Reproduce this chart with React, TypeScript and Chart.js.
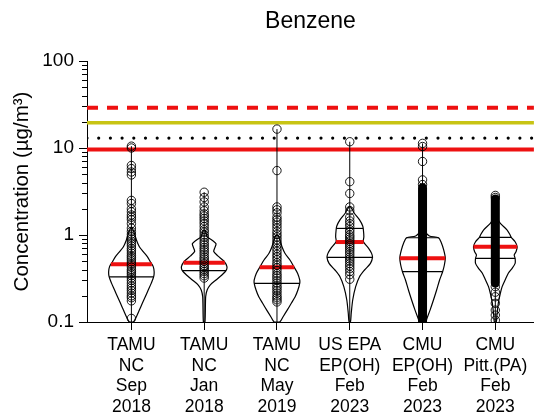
import React, { useEffect, useRef } from "react";
import { Chart, registerables } from "chart.js";
Chart.register(...registerables);

const chartTitle = "Benzene";
const yAxisTitle = "Concentration (µg/m³)";
const categories = [
  ["TAMU", "NC", "Sep", "2018"],
  ["TAMU", "NC", "Jan", "2018"],
  ["TAMU", "NC", "May", "2019"],
  ["US EPA", "EP(OH)", "Feb", "2023"],
  ["CMU", "EP(OH)", "Feb", "2023"],
  ["CMU", "Pitt.(PA)", "Feb", "2023"],
];
const categoryPositions = [1, 2, 3, 4, 5, 6];
const yMajorTicks = [0.1, 1, 10, 100];
const yMinorTicks = [0.2, 0.3, 0.4, 0.5, 0.6, 0.7, 0.8, 0.9, 2, 3, 4, 5, 6, 7, 8, 9, 20, 30, 40, 50, 60, 70, 80, 90];

// reference levels
const acuteLevel = 29; // red dashed
const intermediateLevel = 19.5; // yellow
const dottedLevel = 13; // black dotted
const chronicLevel = 9.6; // red solid

// violin profiles: concentration levels (top to bottom) and relative half-widths
const v1Levels = [1.2, 1.045, 0.877, 0.734, 0.643, 0.564, 0.493, 0.433, 0.378, 0.332, 0.278, 0.233, 0.195, 0.164, 0.137, 0.115, 0.1];
const v1Widths = [0.04, 0.13, 0.22, 0.35, 0.52, 0.7, 0.83, 0.96, 1.0, 0.98, 0.87, 0.74, 0.61, 0.48, 0.35, 0.22, 0.09];
const v2Levels = [1.14, 0.955, 0.871, 0.794, 0.716, 0.646, 0.575, 0.501, 0.433, 0.389, 0.347, 0.304, 0.266, 0.233, 0.195, 0.1];
const v2Widths = [0.04, 0.13, 0.35, 0.52, 0.47, 0.42, 0.6, 0.87, 1.0, 0.96, 0.78, 0.52, 0.26, 0.13, 0.065, 0.035];
const v3Levels = [1.0, 0.871, 0.734, 0.617, 0.516, 0.433, 0.362, 0.304, 0.278, 0.233, 0.195, 0.164, 0.137, 0.115, 0.1];
const v3Widths = [0.04, 0.13, 0.22, 0.35, 0.57, 0.74, 0.91, 1.0, 1.0, 0.92, 0.8, 0.63, 0.45, 0.27, 0.12];
const v4Levels = [2.11, 1.78, 1.49, 1.27, 1.14, 0.957, 0.837, 0.703, 0.615, 0.553, 0.472, 0.396, 0.332, 0.255, 0.179, 0.126, 0.1];
const v4Widths = [0.04, 0.2, 0.43, 0.57, 0.6, 0.62, 0.6, 0.83, 0.96, 1.0, 0.91, 0.65, 0.43, 0.26, 0.13, 0.065, 0.03];
const v5Levels = [1.12, 0.975, 0.931, 0.809, 0.673, 0.545, 0.452, 0.376, 0.304, 0.233, 0.179, 0.137, 0.111, 0.1];
const v5Widths = [0.04, 0.3, 0.7, 0.83, 0.93, 1.0, 0.96, 0.88, 0.75, 0.62, 0.48, 0.33, 0.2, 0.13];
const v6Levels = [1.62, 1.36, 1.14, 1.0, 0.94, 0.837, 0.734, 0.643, 0.589, 0.54, 0.472, 0.414, 0.363, 0.304, 0.255, 0.214, 0.164, 0.115, 0.1];
const v6Widths = [0.04, 0.22, 0.52, 0.65, 0.7, 0.87, 0.96, 0.91, 0.83, 0.87, 0.87, 0.74, 0.57, 0.43, 0.3, 0.22, 0.13, 0.065, 0.04];

// individual observations (open circles)
const v1Points = [10.5, 10.0, 6.3, 5.8, 5.3, 4.9, 2.5, 2.3, 2.0, 1.85, 1.7, 1.6, 1.5, 1.35, 1.2, 1.1, 1.02, 0.95, 0.9, 0.85, 0.8, 0.75, 0.7, 0.66, 0.62, 0.58, 0.55, 0.52, 0.49, 0.46, 0.43, 0.4, 0.38, 0.36, 0.34, 0.32, 0.3, 0.28, 0.26, 0.245, 0.23, 0.215, 0.2, 0.19, 0.175, 0.11];
const v2Points = [3.1, 2.7, 2.4, 2.1, 1.9, 1.75, 1.65, 1.55, 1.45, 1.35, 1.25, 1.15, 1.08, 1.0, 0.94, 0.88, 0.82, 0.77, 0.72, 0.68, 0.64, 0.6, 0.56, 0.53, 0.5, 0.47, 0.44, 0.42, 0.4, 0.38, 0.36, 0.34, 0.32];
const v3Points = [16.5, 5.5, 2.1, 1.95, 1.8, 1.6, 1.5, 1.4, 1.3, 1.2, 1.1, 1.02, 0.95, 0.88, 0.82, 0.76, 0.7, 0.65, 0.6, 0.56, 0.52, 0.48, 0.45, 0.42, 0.39, 0.36, 0.34, 0.32, 0.3, 0.28, 0.26, 0.245, 0.23, 0.215, 0.2, 0.19, 0.18, 0.17];
const v4Points = [11.8, 4.1, 3.0, 2.1, 1.9, 1.6, 1.45, 1.35, 1.25, 1.15, 1.08, 1.0, 0.95, 0.9, 0.85, 0.8, 0.76, 0.72, 0.68, 0.64, 0.6, 0.56, 0.53, 0.5, 0.47, 0.44, 0.41, 0.38, 0.35, 0.31];
const v5Points = [11.3, 10.4, 7.0, 4.3, 3.8];
const v6Points = [2.85, 2.7, 0.255, 0.22, 0.195, 0.164, 0.137, 0.12, 0.105];

// dense observation columns (min, max) where circles merge into solid black
const v5Column = [0.1, 3.5];
const v6Column = [0.28, 2.6];

// summary lines
const meanValues = [0.46, 0.48, 0.425, 0.83, 0.54, 0.734];
const quartileValues = [[0.33], [0.39], [0.278], [1.19, 0.553], [0.93, 0.38], [0.94, 0.54]];
const whiskerMin = [0.1, 0.1, 0.1, 0.1, 0.1, 0.1];
const whiskerMax = [10.5, 3.1, 16.5, 11.8, 11.3, 2.8];

const X_MIN = 0.39;
const X_MAX = 6.53;
const HALF_WIDTH = 0.3125;
const RED = "#ee1111";
const YELLOW = "rgb(200,196,20)";

const violins = [
  { levels: v1Levels, widths: v1Widths, points: v1Points, column: null as number[] | null },
  { levels: v2Levels, widths: v2Widths, points: v2Points, column: null },
  { levels: v3Levels, widths: v3Widths, points: v3Points, column: null },
  { levels: v4Levels, widths: v4Widths, points: v4Points, column: null },
  { levels: v5Levels, widths: v5Widths, points: v5Points, column: v5Column },
  { levels: v6Levels, widths: v6Widths, points: v6Points, column: v6Column },
];

function widthAt(levels: number[], widths: number[], v: number): number {
  for (let i = 0; i < levels.length - 1; i++) {
    if (v <= levels[i] && v >= levels[i + 1]) {
      const a = Math.log10(levels[i]);
      const b = Math.log10(levels[i + 1]);
      const t = (Math.log10(v) - a) / (b - a);
      return widths[i] + t * (widths[i + 1] - widths[i]);
    }
  }
  return 0.05;
}

function buildDatasets() {
  const ds: any[] = [];
  const seg = (pts: { x: number; y: number }[], color: string, width: number, order: number, extra: any = {}) => ({
    data: pts,
    showLine: true,
    borderColor: color,
    borderWidth: width,
    pointRadius: 0,
    pointHoverRadius: 0,
    fill: false,
    order,
    ...extra,
  });
  // reference lines
  ds.push(seg([{ x: X_MIN, y: acuteLevel }, { x: X_MAX, y: acuteLevel }], RED, 4, 6, { borderDash: [11, 9] }));
  ds.push(seg([{ x: X_MIN, y: intermediateLevel }, { x: X_MAX, y: intermediateLevel }], YELLOW, 3.5, 6));
  ds.push(seg([{ x: X_MIN, y: dottedLevel }, { x: X_MAX, y: dottedLevel }], "#000", 3.2, 6, { borderDash: [0, 11.7], borderCapStyle: "round" }));
  ds.push(seg([{ x: X_MIN, y: chronicLevel }, { x: X_MAX, y: chronicLevel }], RED, 4, 6));

  violins.forEach((v, i) => {
    const c = categoryPositions[i];
    const right = v.levels.map((l, k) => ({ x: c + v.widths[k] * HALF_WIDTH, y: l }));
    const left = v.levels.map((l, k) => ({ x: c - v.widths[k] * HALF_WIDTH, y: l })).reverse();
    const top = { x: c, y: v.levels[0] };
    ds.push(seg([top, ...right, ...left, top], "#000", 1.2, 5, { tension: 0.25 }));
    // whisker
    ds.push(seg([{ x: c, y: whiskerMin[i] }, { x: c, y: whiskerMax[i] }], "#000", 1, 4));
    // quartile lines
    quartileValues[i].forEach((q) => {
      const w = widthAt(v.levels, v.widths, q) * HALF_WIDTH;
      ds.push(seg([{ x: c - w, y: q }, { x: c + w, y: q }], "#000", 1.2, 3));
    });
    // mean line
    const m = meanValues[i];
    const wm = widthAt(v.levels, v.widths, m) * HALF_WIDTH;
    ds.push(seg([{ x: c - wm, y: m }, { x: c + wm, y: m }], RED, 4, 2));
    // dense column
    if (v.column) {
      ds.push(seg([{ x: c, y: v.column[0] }, { x: c, y: v.column[1] }], "#000", 9, 1, { borderCapStyle: "round" }));
    }
    // points
    ds.push({
      data: v.points.map((p) => ({ x: c, y: p })),
      showLine: false,
      pointRadius: 4.2,
      pointBorderWidth: 0.9,
      pointBorderColor: "#000",
      pointBackgroundColor: "rgba(0,0,0,0)",
      order: 0,
    });
  });
  return ds;
}

const minorTickPlugin = {
  id: "minorTicks",
  afterDraw(chart: any) {
    const s = chart.scales.y;
    const ctx = chart.ctx;
    ctx.save();
    ctx.strokeStyle = "#000";
    ctx.lineWidth = 1;
    yMinorTicks.forEach((v) => {
      const py = Math.round(s.getPixelForValue(v)) + 0.5;
      ctx.beginPath();
      ctx.moveTo(s.right - 5, py);
      ctx.lineTo(s.right, py);
      ctx.stroke();
    });
    ctx.restore();
  },
};

export default function App() {
  const ref = useRef<HTMLCanvasElement | null>(null);
  useEffect(() => {
    if (!ref.current) return;
    Chart.defaults.font.family = "'Liberation Sans', Arial, sans-serif";
    Chart.defaults.color = "#000";
    const chart = new Chart(ref.current, {
      type: "scatter",
      data: { datasets: buildDatasets() },
      plugins: [minorTickPlugin],
      options: {
        responsive: false,
        animation: false,
        devicePixelRatio: 1,
        layout: { padding: 0 },
        plugins: {
          legend: { display: false },
          tooltip: { enabled: false },
          title: {
            display: true,
            text: chartTitle,
            fullSize: false,
            font: { size: 23, weight: "normal" },
            color: "#000",
            padding: { top: 7.5, bottom: 25.9 },
          },
        },
        scales: {
          x: {
            type: "linear",
            min: X_MIN,
            max: X_MAX,
            afterBuildTicks: (s: any) => {
              s.ticks = categoryPositions.map((v) => ({ value: v }));
            },
            afterFit: (s: any) => {
              s.height = 97;
            },
            ticks: {
              callback: (v: any) => categories[Math.round(v) - 1],
              font: { size: 17.5, lineHeight: 1.18 },
              color: "#000",
              padding: 5,
              maxRotation: 0,
              autoSkip: false,
            },
            grid: { drawOnChartArea: false, drawTicks: true, tickLength: 8, color: "#000" },
            border: { display: true, color: "#000", width: 1 },
          },
          y: {
            type: "logarithmic",
            min: 0.1,
            max: 100,
            afterBuildTicks: (s: any) => {
              s.ticks = yMajorTicks.map((v) => ({ value: v }));
            },
            afterFit: (s: any) => {
              s.width = 87;
            },
            ticks: {
              callback: (v: any) => String(v),
              font: { size: 19 },
              color: "#000",
              padding: 5,
            },
            grid: { drawOnChartArea: false, drawTicks: true, tickLength: 8, color: "#000" },
            border: { display: true, color: "#000", width: 1 },
            title: {
              display: true,
              text: yAxisTitle,
              font: { size: 20.5 },
              color: "#000",
              padding: { top: 10, bottom: 0 },
            },
          },
        },
      } as any,
    });
    return () => chart.destroy();
  }, []);
  return (
    <div style={{ position: "absolute", left: 0, top: 0, width: 539, height: 419 }}>
      <canvas ref={ref} width={539} height={419} style={{ display: "block" }} />
    </div>
  );
}
